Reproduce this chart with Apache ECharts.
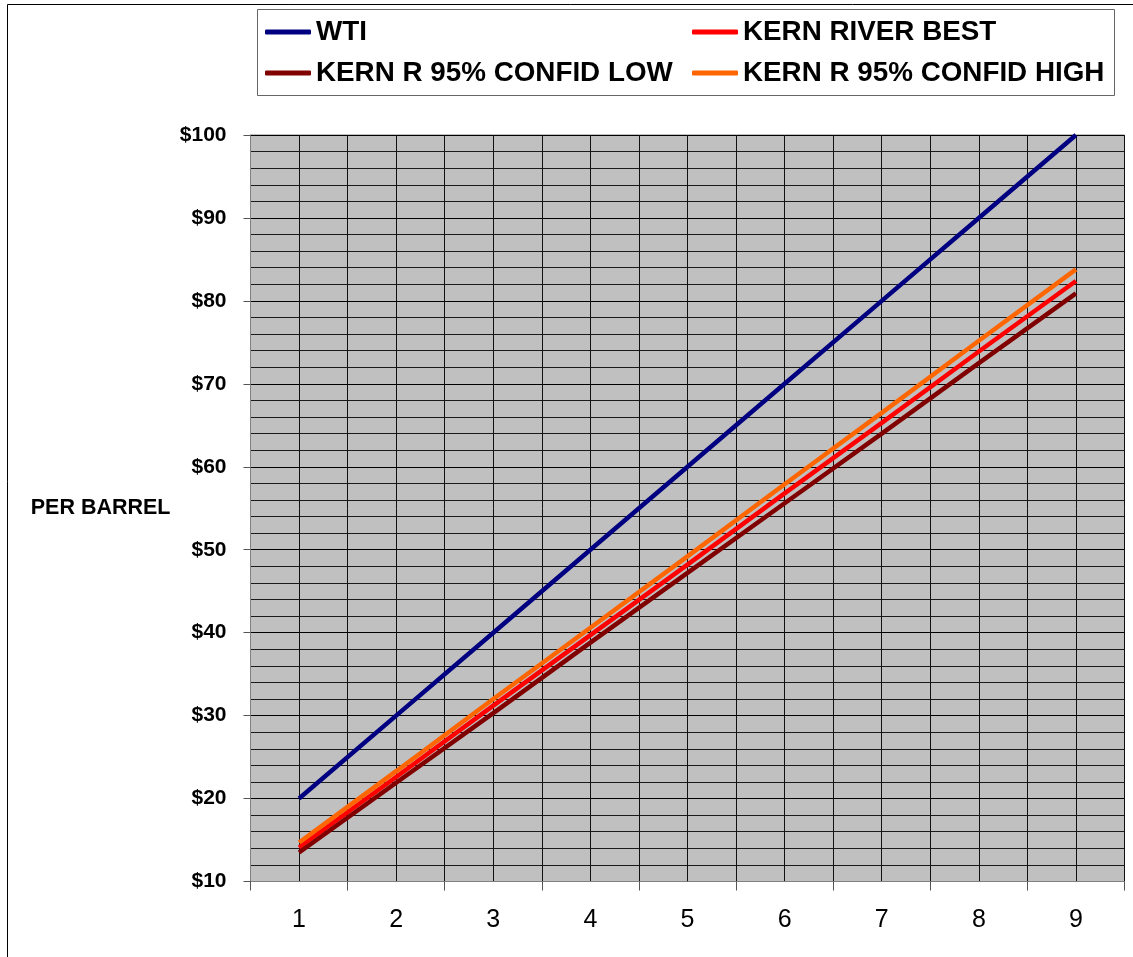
<!DOCTYPE html>
<html>
<head>
<meta charset="utf-8">
<title>WTI vs Kern River</title>
<script src="https://cdn.jsdelivr.net/npm/echarts@6/dist/echarts.min.js"></script>
<style>
  html, body { margin: 0; padding: 0; background: #fff; }
  #chart { width: 1133px; height: 957px; }
</style>
</head>
<body>
<div id="chart"></div>
<script>
// categories on the x axis
const categories = ['1', '2', '3', '4', '5', '6', '7', '8', '9']
// half-category bands, only used to draw the vertical grid lines
const halfBands = ['', '', '', '', '', '', '', '', '', '', '', '', '', '', '', '', '', '']

// $ per barrel
const wti = [20, 30, 40, 50, 60, 70, 80, 90, 100]
const kernBest = [14.1, 22.6, 31.2, 39.7, 48.2, 56.8, 65.3, 73.9, 82.4]
const kernLow = [13.5, 21.9, 30.3, 38.8, 47.2, 55.6, 64.0, 72.5, 80.9]
const kernHigh = [14.7, 23.3, 32.0, 40.6, 49.2, 57.9, 66.5, 75.2, 83.8]

const FONT = 'Liberation Sans, Arial, sans-serif'

const myChart = echarts.init(document.getElementById('chart'))

const lineSeries = (name, color, data) => ({
  name: name,
  type: 'line',
  data: data,
  symbol: 'none',
  xAxisIndex: 0,
  lineStyle: { color: color, width: 4.5 },
  itemStyle: { color: color }
})

const legendText = {
  color: '#000',
  fontFamily: FONT,
  fontWeight: 'bold',
  fontSize: 27.8,
  lineHeight: 30
}

// plain bar icon, like the old excel legend
const legendBase = {
  orient: 'vertical',
  top: 17,
  padding: 0,
  itemGap: 11,
  itemWidth: 46,
  itemHeight: 5,
  icon: 'roundRect',
  textStyle: legendText
}

myChart.setOption({
  animation: false,
  backgroundColor: '#fff',
  textStyle: { fontFamily: FONT },
  legend: [
    Object.assign({}, legendBase, {
      left: 265,
      data: ['WTI', 'KERN R 95% CONFID LOW']
    }),
    Object.assign({}, legendBase, {
      left: 692,
      data: ['KERN RIVER BEST', 'KERN R 95% CONFID HIGH']
    })
  ],
  graphic: [
    {
      type: 'rect',
      shape: { x: 7.5, y: 4.5, width: 1200, height: 1000 },
      style: { fill: 'none', stroke: '#000', lineWidth: 1 },
      silent: true
    },
    {
      type: 'rect',
      shape: { x: 257.5, y: 9.5, width: 857, height: 86 },
      style: { fill: 'none', stroke: '#666', lineWidth: 1 },
      silent: true
    }
  ],
  grid: {
    left: 250.5,
    top: 135,
    right: 8.5,
    bottom: 75.5,
    show: true,
    backgroundColor: '#c0c0c0',
    borderColor: '#808080',
    borderWidth: 1
  },
  xAxis: [
    {
      type: 'category',
      data: categories,
      boundaryGap: true,
      axisLine: { show: true, lineStyle: { color: '#808080' } },
      axisTick: { show: true, length: 9, lineStyle: { color: '#555' } },
      axisLabel: { color: '#000', fontSize: 25, margin: 26, fontFamily: FONT },
      splitLine: { show: false }
    },
    {
      type: 'category',
      data: halfBands,
      position: 'bottom',
      boundaryGap: true,
      axisLine: { show: false },
      axisTick: { show: false },
      axisLabel: { show: false },
      splitLine: { show: true, interval: 0, lineStyle: { color: '#111', width: 1 } }
    }
  ],
  yAxis: {
    type: 'value',
    min: 10,
    max: 100,
    interval: 10,
    name: 'PER BARREL',
    nameLocation: 'middle',
    nameRotate: 0,
    nameGap: 80,
    nameTextStyle: { color: '#000', fontSize: 21.5, fontWeight: 'bold', fontFamily: FONT },
    axisLine: { show: true, lineStyle: { color: '#808080' } },
    axisTick: { show: true, length: 7, lineStyle: { color: '#555' } },
    axisLabel: {
      color: '#000',
      fontSize: 21,
      fontWeight: 'bold',
      margin: 24,
      fontFamily: FONT,
      formatter: '${value}'
    },
    splitLine: { show: true, lineStyle: { color: '#000', width: 1 } },
    minorTick: { show: false, splitNumber: 5 },
    minorSplitLine: { show: true, lineStyle: { color: '#1a1a1a', width: 1 } }
  },
  series: [
    lineSeries('WTI', '#000080', wti),
    lineSeries('KERN RIVER BEST', '#ff0000', kernBest),
    lineSeries('KERN R 95% CONFID LOW', '#800000', kernLow),
    lineSeries('KERN R 95% CONFID HIGH', '#ff6600', kernHigh)
  ]
})
</script>
</body>
</html>
